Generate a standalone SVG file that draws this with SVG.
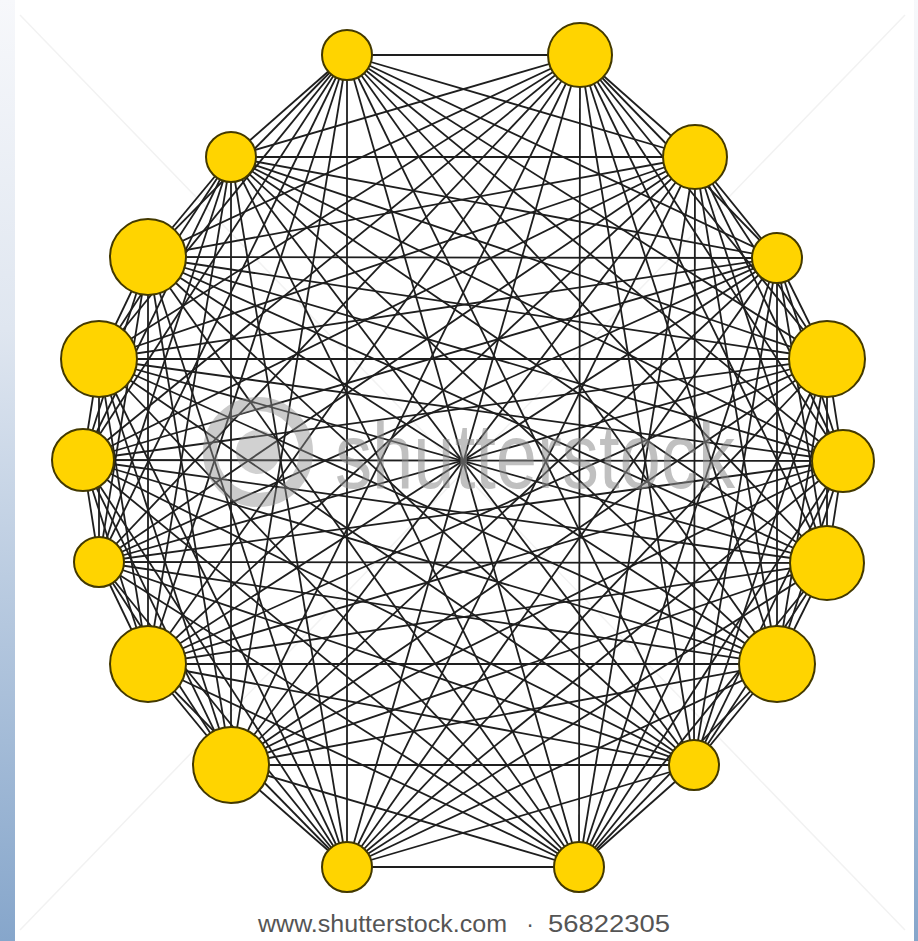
<svg xmlns="http://www.w3.org/2000/svg" width="918" height="941" viewBox="0 0 918 941">
<defs>
<linearGradient id="strip" x1="0" y1="0" x2="0" y2="1">
<stop offset="0" stop-color="#f7f8fb"/>
<stop offset="0.35" stop-color="#dfe6f0"/>
<stop offset="1" stop-color="#86a6cb"/>
</linearGradient>
<style>
.e{stroke:#1e1e1e;stroke-width:1.8;fill:none}
.n{fill:#FFD400;stroke:#433900;stroke-width:2}
.wm{fill:#8c8c8c;fill-opacity:0.55;font-family:"Liberation Sans",Arial,sans-serif}
.cap{fill:#555555;font-family:"Liberation Sans",Arial,sans-serif;font-size:23px}
</style>
</defs>
<rect x="0" y="0" width="918" height="941" fill="#ffffff"/>
<rect x="0" y="0" width="15" height="941" fill="url(#strip)"/>
<rect x="914" y="0" width="4" height="941" fill="url(#strip)"/>
<g id="watermark-lines" stroke="#f2f2f2" stroke-width="1.5">
<line x1="20" y1="15" x2="905" y2="930"/>
<line x1="905" y1="15" x2="20" y2="930"/>
</g>
<g id="connectors">
<line class="e" x1="347" y1="55" x2="580" y2="55"/>
<line class="e" x1="347" y1="55" x2="231" y2="157"/>
<line class="e" x1="347" y1="55" x2="695" y2="157"/>
<line class="e" x1="347" y1="55" x2="148" y2="257"/>
<line class="e" x1="347" y1="55" x2="777" y2="258"/>
<line class="e" x1="347" y1="55" x2="99" y2="359"/>
<line class="e" x1="347" y1="55" x2="827" y2="359"/>
<line class="e" x1="347" y1="55" x2="83" y2="460"/>
<line class="e" x1="347" y1="55" x2="843" y2="461"/>
<line class="e" x1="347" y1="55" x2="99" y2="562"/>
<line class="e" x1="347" y1="55" x2="827" y2="563"/>
<line class="e" x1="347" y1="55" x2="148" y2="664"/>
<line class="e" x1="347" y1="55" x2="777" y2="664"/>
<line class="e" x1="347" y1="55" x2="231" y2="765"/>
<line class="e" x1="347" y1="55" x2="694" y2="765"/>
<line class="e" x1="347" y1="55" x2="347" y2="867"/>
<line class="e" x1="347" y1="55" x2="579" y2="867"/>
<line class="e" x1="580" y1="55" x2="231" y2="157"/>
<line class="e" x1="580" y1="55" x2="695" y2="157"/>
<line class="e" x1="580" y1="55" x2="148" y2="257"/>
<line class="e" x1="580" y1="55" x2="777" y2="258"/>
<line class="e" x1="580" y1="55" x2="99" y2="359"/>
<line class="e" x1="580" y1="55" x2="827" y2="359"/>
<line class="e" x1="580" y1="55" x2="83" y2="460"/>
<line class="e" x1="580" y1="55" x2="843" y2="461"/>
<line class="e" x1="580" y1="55" x2="99" y2="562"/>
<line class="e" x1="580" y1="55" x2="827" y2="563"/>
<line class="e" x1="580" y1="55" x2="148" y2="664"/>
<line class="e" x1="580" y1="55" x2="777" y2="664"/>
<line class="e" x1="580" y1="55" x2="231" y2="765"/>
<line class="e" x1="580" y1="55" x2="694" y2="765"/>
<line class="e" x1="580" y1="55" x2="347" y2="867"/>
<line class="e" x1="580" y1="55" x2="579" y2="867"/>
<line class="e" x1="231" y1="157" x2="695" y2="157"/>
<line class="e" x1="231" y1="157" x2="148" y2="257"/>
<line class="e" x1="231" y1="157" x2="777" y2="258"/>
<line class="e" x1="231" y1="157" x2="99" y2="359"/>
<line class="e" x1="231" y1="157" x2="827" y2="359"/>
<line class="e" x1="231" y1="157" x2="83" y2="460"/>
<line class="e" x1="231" y1="157" x2="843" y2="461"/>
<line class="e" x1="231" y1="157" x2="99" y2="562"/>
<line class="e" x1="231" y1="157" x2="827" y2="563"/>
<line class="e" x1="231" y1="157" x2="148" y2="664"/>
<line class="e" x1="231" y1="157" x2="777" y2="664"/>
<line class="e" x1="231" y1="157" x2="231" y2="765"/>
<line class="e" x1="231" y1="157" x2="694" y2="765"/>
<line class="e" x1="231" y1="157" x2="347" y2="867"/>
<line class="e" x1="231" y1="157" x2="579" y2="867"/>
<line class="e" x1="695" y1="157" x2="148" y2="257"/>
<line class="e" x1="695" y1="157" x2="777" y2="258"/>
<line class="e" x1="695" y1="157" x2="99" y2="359"/>
<line class="e" x1="695" y1="157" x2="827" y2="359"/>
<line class="e" x1="695" y1="157" x2="83" y2="460"/>
<line class="e" x1="695" y1="157" x2="843" y2="461"/>
<line class="e" x1="695" y1="157" x2="99" y2="562"/>
<line class="e" x1="695" y1="157" x2="827" y2="563"/>
<line class="e" x1="695" y1="157" x2="148" y2="664"/>
<line class="e" x1="695" y1="157" x2="777" y2="664"/>
<line class="e" x1="695" y1="157" x2="231" y2="765"/>
<line class="e" x1="695" y1="157" x2="694" y2="765"/>
<line class="e" x1="695" y1="157" x2="347" y2="867"/>
<line class="e" x1="695" y1="157" x2="579" y2="867"/>
<line class="e" x1="148" y1="257" x2="777" y2="258"/>
<line class="e" x1="148" y1="257" x2="99" y2="359"/>
<line class="e" x1="148" y1="257" x2="827" y2="359"/>
<line class="e" x1="148" y1="257" x2="83" y2="460"/>
<line class="e" x1="148" y1="257" x2="843" y2="461"/>
<line class="e" x1="148" y1="257" x2="99" y2="562"/>
<line class="e" x1="148" y1="257" x2="827" y2="563"/>
<line class="e" x1="148" y1="257" x2="148" y2="664"/>
<line class="e" x1="148" y1="257" x2="777" y2="664"/>
<line class="e" x1="148" y1="257" x2="231" y2="765"/>
<line class="e" x1="148" y1="257" x2="694" y2="765"/>
<line class="e" x1="148" y1="257" x2="347" y2="867"/>
<line class="e" x1="148" y1="257" x2="579" y2="867"/>
<line class="e" x1="777" y1="258" x2="99" y2="359"/>
<line class="e" x1="777" y1="258" x2="827" y2="359"/>
<line class="e" x1="777" y1="258" x2="83" y2="460"/>
<line class="e" x1="777" y1="258" x2="843" y2="461"/>
<line class="e" x1="777" y1="258" x2="99" y2="562"/>
<line class="e" x1="777" y1="258" x2="827" y2="563"/>
<line class="e" x1="777" y1="258" x2="148" y2="664"/>
<line class="e" x1="777" y1="258" x2="777" y2="664"/>
<line class="e" x1="777" y1="258" x2="231" y2="765"/>
<line class="e" x1="777" y1="258" x2="694" y2="765"/>
<line class="e" x1="777" y1="258" x2="347" y2="867"/>
<line class="e" x1="777" y1="258" x2="579" y2="867"/>
<line class="e" x1="99" y1="359" x2="827" y2="359"/>
<line class="e" x1="99" y1="359" x2="83" y2="460"/>
<line class="e" x1="99" y1="359" x2="843" y2="461"/>
<line class="e" x1="99" y1="359" x2="99" y2="562"/>
<line class="e" x1="99" y1="359" x2="827" y2="563"/>
<line class="e" x1="99" y1="359" x2="148" y2="664"/>
<line class="e" x1="99" y1="359" x2="777" y2="664"/>
<line class="e" x1="99" y1="359" x2="231" y2="765"/>
<line class="e" x1="99" y1="359" x2="694" y2="765"/>
<line class="e" x1="99" y1="359" x2="347" y2="867"/>
<line class="e" x1="99" y1="359" x2="579" y2="867"/>
<line class="e" x1="827" y1="359" x2="83" y2="460"/>
<line class="e" x1="827" y1="359" x2="843" y2="461"/>
<line class="e" x1="827" y1="359" x2="99" y2="562"/>
<line class="e" x1="827" y1="359" x2="827" y2="563"/>
<line class="e" x1="827" y1="359" x2="148" y2="664"/>
<line class="e" x1="827" y1="359" x2="777" y2="664"/>
<line class="e" x1="827" y1="359" x2="231" y2="765"/>
<line class="e" x1="827" y1="359" x2="694" y2="765"/>
<line class="e" x1="827" y1="359" x2="347" y2="867"/>
<line class="e" x1="827" y1="359" x2="579" y2="867"/>
<line class="e" x1="83" y1="460" x2="843" y2="461"/>
<line class="e" x1="83" y1="460" x2="99" y2="562"/>
<line class="e" x1="83" y1="460" x2="827" y2="563"/>
<line class="e" x1="83" y1="460" x2="148" y2="664"/>
<line class="e" x1="83" y1="460" x2="777" y2="664"/>
<line class="e" x1="83" y1="460" x2="231" y2="765"/>
<line class="e" x1="83" y1="460" x2="694" y2="765"/>
<line class="e" x1="83" y1="460" x2="347" y2="867"/>
<line class="e" x1="83" y1="460" x2="579" y2="867"/>
<line class="e" x1="843" y1="461" x2="99" y2="562"/>
<line class="e" x1="843" y1="461" x2="827" y2="563"/>
<line class="e" x1="843" y1="461" x2="148" y2="664"/>
<line class="e" x1="843" y1="461" x2="777" y2="664"/>
<line class="e" x1="843" y1="461" x2="231" y2="765"/>
<line class="e" x1="843" y1="461" x2="694" y2="765"/>
<line class="e" x1="843" y1="461" x2="347" y2="867"/>
<line class="e" x1="843" y1="461" x2="579" y2="867"/>
<line class="e" x1="99" y1="562" x2="827" y2="563"/>
<line class="e" x1="99" y1="562" x2="148" y2="664"/>
<line class="e" x1="99" y1="562" x2="777" y2="664"/>
<line class="e" x1="99" y1="562" x2="231" y2="765"/>
<line class="e" x1="99" y1="562" x2="694" y2="765"/>
<line class="e" x1="99" y1="562" x2="347" y2="867"/>
<line class="e" x1="99" y1="562" x2="579" y2="867"/>
<line class="e" x1="827" y1="563" x2="148" y2="664"/>
<line class="e" x1="827" y1="563" x2="777" y2="664"/>
<line class="e" x1="827" y1="563" x2="231" y2="765"/>
<line class="e" x1="827" y1="563" x2="694" y2="765"/>
<line class="e" x1="827" y1="563" x2="347" y2="867"/>
<line class="e" x1="827" y1="563" x2="579" y2="867"/>
<line class="e" x1="148" y1="664" x2="777" y2="664"/>
<line class="e" x1="148" y1="664" x2="231" y2="765"/>
<line class="e" x1="148" y1="664" x2="694" y2="765"/>
<line class="e" x1="148" y1="664" x2="347" y2="867"/>
<line class="e" x1="148" y1="664" x2="579" y2="867"/>
<line class="e" x1="777" y1="664" x2="231" y2="765"/>
<line class="e" x1="777" y1="664" x2="694" y2="765"/>
<line class="e" x1="777" y1="664" x2="347" y2="867"/>
<line class="e" x1="777" y1="664" x2="579" y2="867"/>
<line class="e" x1="231" y1="765" x2="694" y2="765"/>
<line class="e" x1="231" y1="765" x2="347" y2="867"/>
<line class="e" x1="231" y1="765" x2="579" y2="867"/>
<line class="e" x1="694" y1="765" x2="347" y2="867"/>
<line class="e" x1="694" y1="765" x2="579" y2="867"/>
<line class="e" x1="347" y1="867" x2="579" y2="867"/>
</g>
<g id="watermark">
<circle cx="258" cy="452" r="48" fill="none" stroke="#8c8c8c" stroke-opacity="0.45" stroke-width="14"/>
<circle cx="258" cy="452" r="22" fill="#8c8c8c" fill-opacity="0.4"/>
<text class="wm" x="335" y="488" font-size="92" textLength="400" lengthAdjust="spacingAndGlyphs">shutterstock</text>
</g>
<g id="node1"><circle class="n" cx="347" cy="55" r="25"/></g>
<g id="node2"><circle class="n" cx="580" cy="55" r="32"/></g>
<g id="node3"><circle class="n" cx="231" cy="157" r="25"/></g>
<g id="node4"><circle class="n" cx="695" cy="157" r="32"/></g>
<g id="node5"><circle class="n" cx="148" cy="257" r="38"/></g>
<g id="node6"><circle class="n" cx="777" cy="258" r="25"/></g>
<g id="node7"><circle class="n" cx="99" cy="359" r="38"/></g>
<g id="node8"><circle class="n" cx="827" cy="359" r="38"/></g>
<g id="node9"><circle class="n" cx="83" cy="460" r="31"/></g>
<g id="node10"><circle class="n" cx="843" cy="461" r="31"/></g>
<g id="node11"><circle class="n" cx="99" cy="562" r="25"/></g>
<g id="node12"><circle class="n" cx="827" cy="563" r="37"/></g>
<g id="node13"><circle class="n" cx="148" cy="664" r="38"/></g>
<g id="node14"><circle class="n" cx="777" cy="664" r="38"/></g>
<g id="node15"><circle class="n" cx="231" cy="765" r="38"/></g>
<g id="node16"><circle class="n" cx="694" cy="765" r="25"/></g>
<g id="node17"><circle class="n" cx="347" cy="867" r="25"/></g>
<g id="node18"><circle class="n" cx="579" cy="867" r="25"/></g>
<g id="caption">
<text class="cap" x="258" y="932" textLength="249" lengthAdjust="spacingAndGlyphs">www.shutterstock.com</text>
<text class="cap" x="530" y="932" text-anchor="middle">·</text>
<text class="cap" x="548" y="932" textLength="122" lengthAdjust="spacingAndGlyphs">56822305</text>
</g>
</svg>
